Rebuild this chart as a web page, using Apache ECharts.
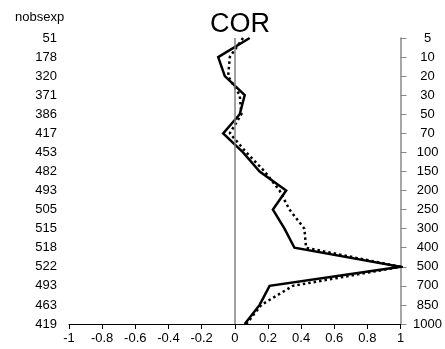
<!DOCTYPE html>
<html><head><meta charset="utf-8">
<script src="https://cdn.jsdelivr.net/npm/echarts@6/dist/echarts.min.js"></script>
<style>html,body{margin:0;padding:0;background:#fff}#c{width:445px;height:349px}</style>
</head><body><div id="c"></div>
<script>
var levels = ['5','10','20','30','50','70','100','150','200','250','300','400','500','700','850','1000'];
var nobsexp = ['51','178','320','371','386','417','453','482','493','505','515','518','522','493','463','419'];
var solid = [0.09,-0.10,-0.06,0.06,0.03,-0.07,0.05,0.15,0.31,0.23,0.30,0.36,1.0,0.21,0.15,0.06];
var dotted = [0.05,-0.03,-0.04,0.03,0.04,-0.03,0.07,0.18,0.27,0.33,0.42,0.43,1.0,0.35,0.16,0.07];
var xTicksMin = -1, xTicksMax = 1, xTickStep = 0.2;

var font = 'Liberation Sans, Arial, Helvetica, sans-serif';
var chart = echarts.init(document.getElementById('c'), null, {renderer: 'canvas'});
chart.setOption({
  animation: false,
  backgroundColor: '#fff',
  title: [
    {text: 'COR', left: 235, top: 6, textAlign: 'center',
     textStyle: {fontFamily: font, fontSize: 27, fontWeight: 'normal', color: '#000'}},
    {text: 'nobsexp', left: 10, top: 6,
     textStyle: {fontFamily: font, fontSize: 13, fontWeight: 'normal', color: '#000'}}
  ],
  grid: {left: 69, right: 44, top: 38, bottom: 25, containLabel: false},
  xAxis: {
    type: 'value', min: xTicksMin, max: xTicksMax, interval: xTickStep,
    axisLine: {show: true, onZero: false, lineStyle: {color: '#000', width: 1}},
    axisTick: {show: true, inside: false, length: 5, lineStyle: {color: '#000'}},
    splitLine: {show: false},
    axisLabel: {margin: 8, fontFamily: font, fontSize: 13, color: '#000',
      formatter: function (v) { return String(Math.round(v * 10) / 10); }}
  },
  yAxis: [
    {type: 'category', data: nobsexp, inverse: true, boundaryGap: false, position: 'left',
     axisLine: {show: false}, axisTick: {show: false}, splitLine: {show: false},
     axisLabel: {margin: 12, fontFamily: font, fontSize: 13, color: '#000', interval: 0}},
    {type: 'category', data: levels, inverse: true, boundaryGap: false, position: 'right',
     axisLine: {show: true, lineStyle: {color: '#888', width: 1.5}},
     axisTick: {show: true, inside: false, length: 6, interval: 0, lineStyle: {color: '#888'}},
     splitLine: {show: false},
     axisLabel: {margin: 27, align: 'center', fontFamily: font, fontSize: 13, color: '#000', interval: 0}}
  ],
  series: [
    {type: 'line', name: 'solid', yAxisIndex: 1, data: solid, symbol: 'none',
     lineStyle: {color: '#000', width: 2.5, type: 'solid', join: 'miter'},
     markLine: {silent: true, symbol: 'none', label: {show: false},
       lineStyle: {color: '#808080', width: 1.5, type: 'solid'},
       data: [{xAxis: 0}]},
     z: 3},
    {type: 'line', name: 'dotted', yAxisIndex: 1, data: dotted, symbol: 'none',
     lineStyle: {color: '#000', width: 2.5, type: [2.5, 3]},
     z: 3}
  ]
});
</script></body></html>
